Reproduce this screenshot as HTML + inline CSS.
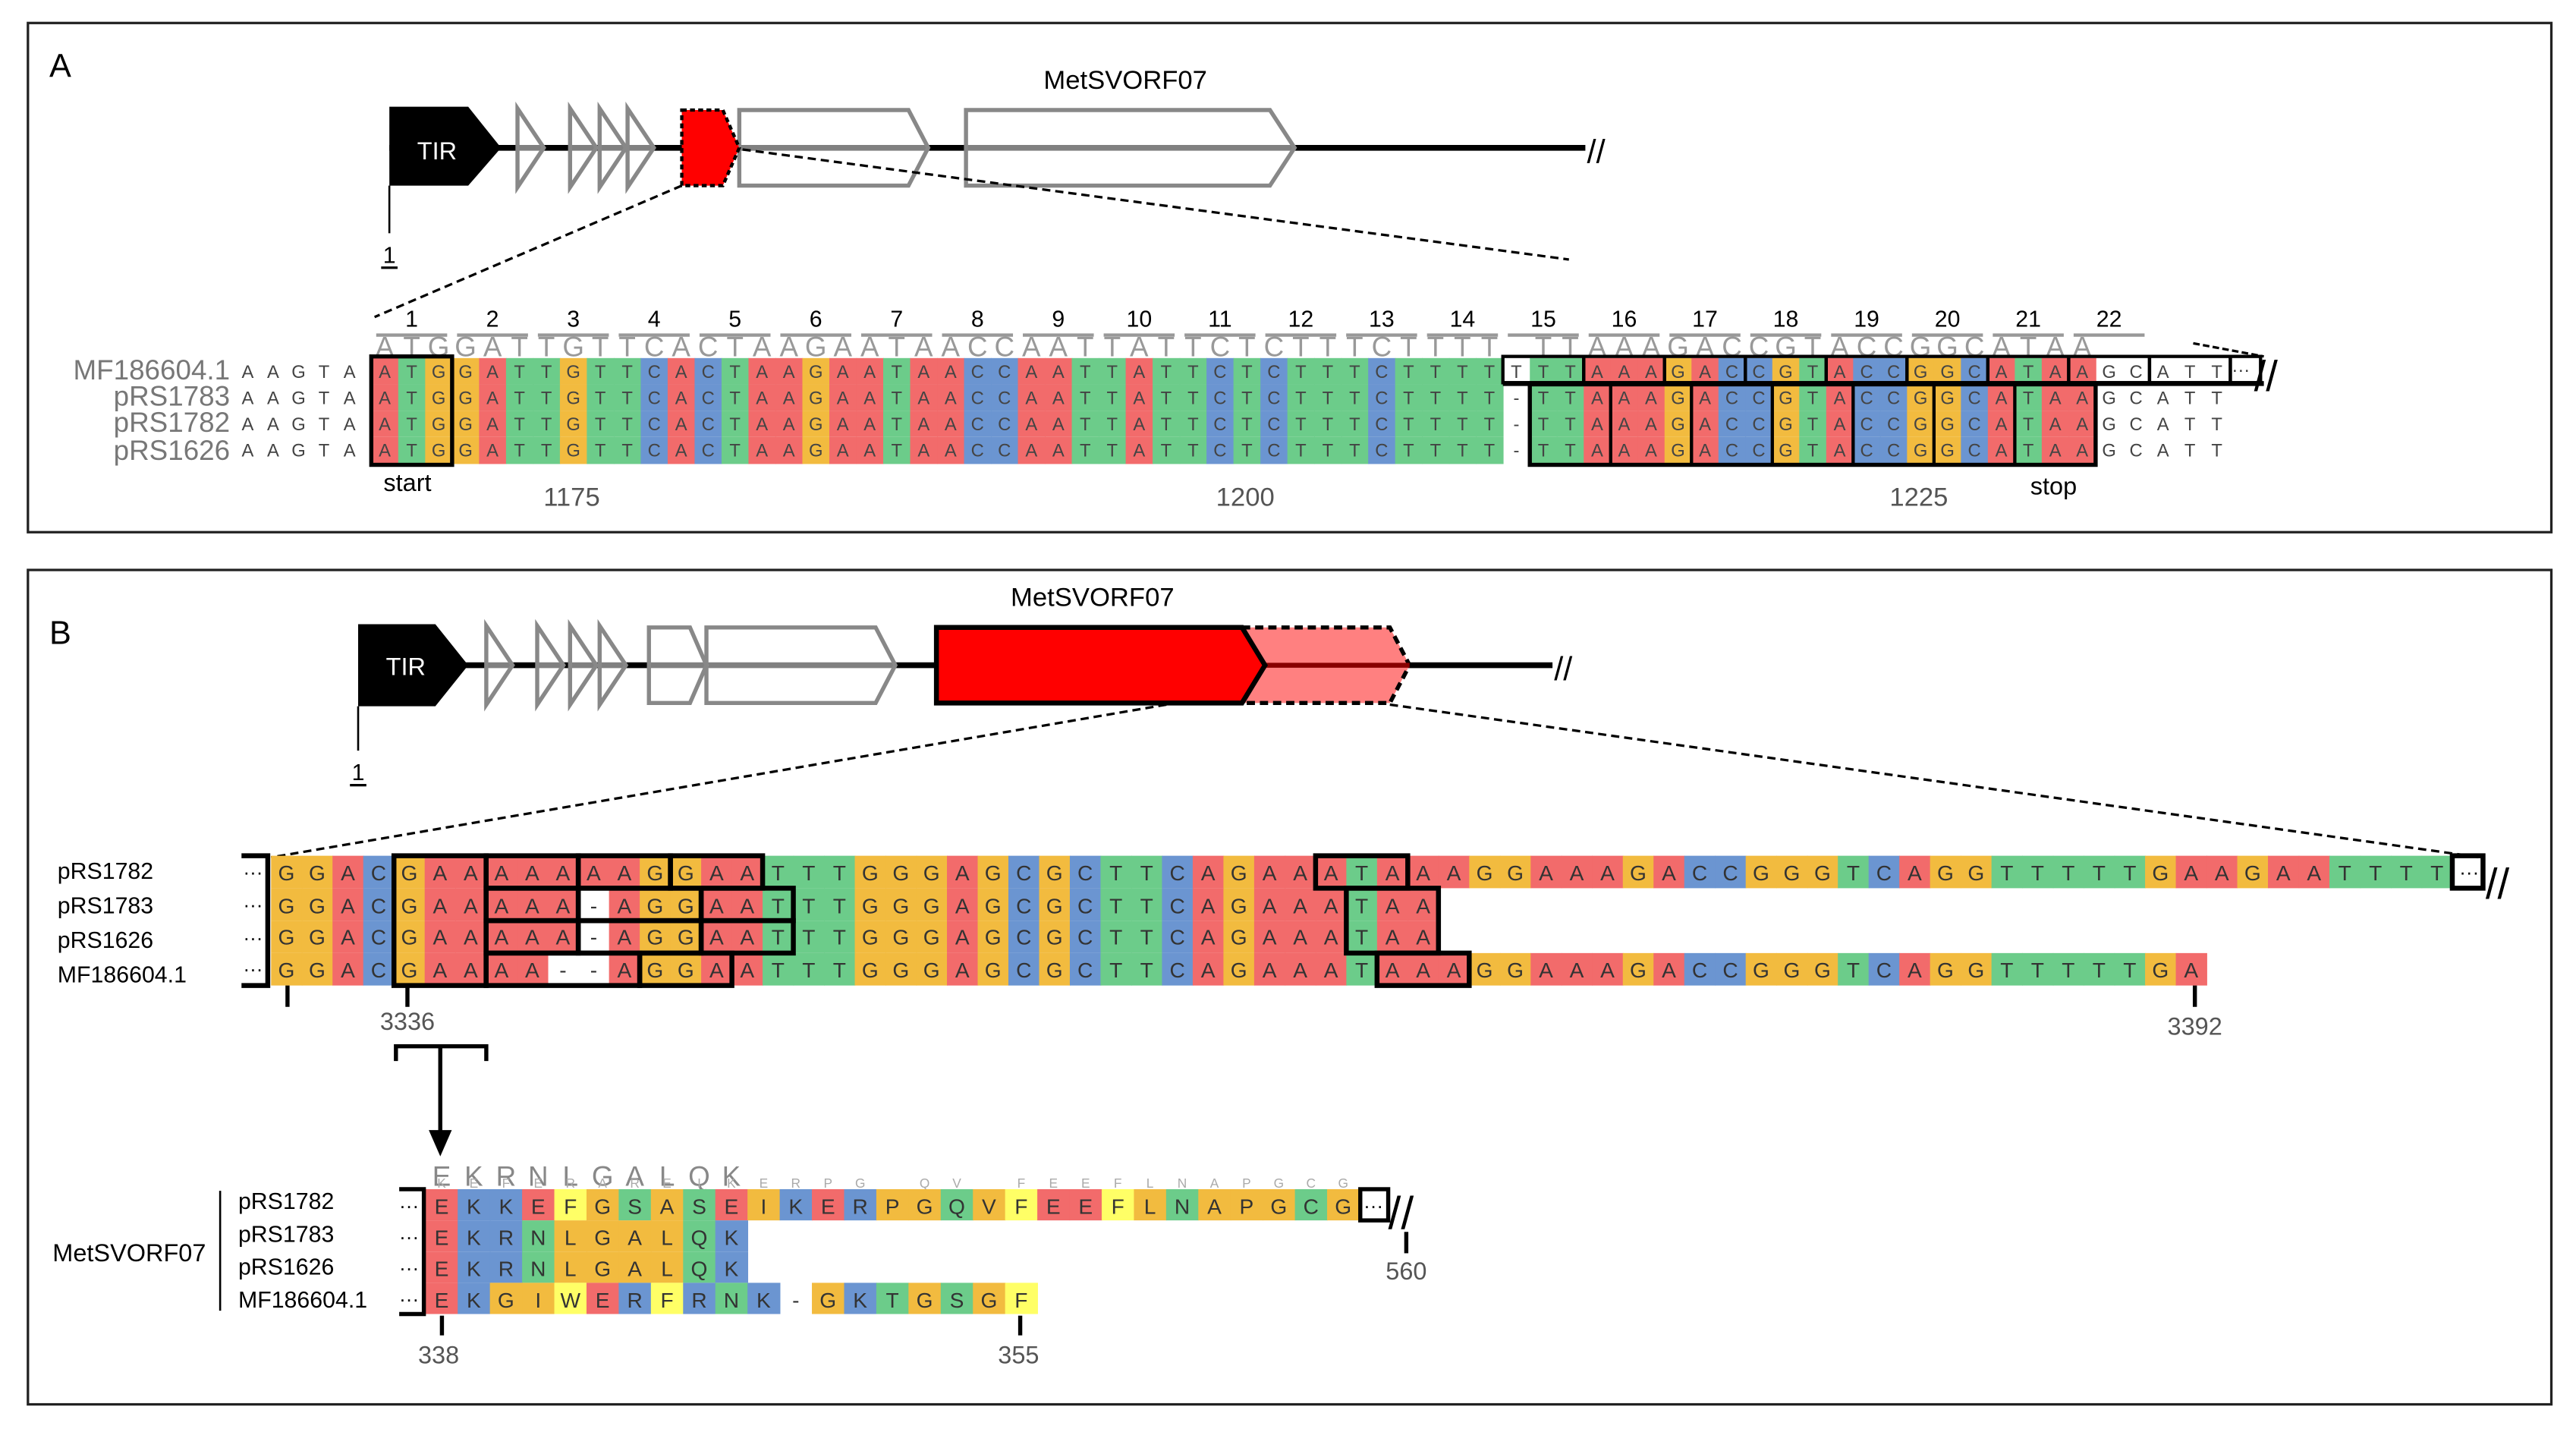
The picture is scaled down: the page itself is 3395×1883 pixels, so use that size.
<!DOCTYPE html>
<html><head><meta charset="utf-8"><style>
html,body{margin:0;padding:0;background:#fff;}
svg{display:block;}
text{font-family:"Liberation Sans Narrow","Liberation Sans",sans-serif;}
.nt{font-size:11px;fill:#444;text-anchor:middle;}
.ntb{font-size:13px;fill:#333;text-anchor:middle;}
.aa{font-size:13px;fill:#333;text-anchor:middle;}
.num{font-size:14px;fill:#000;text-anchor:middle;}
</style></head><body>
<svg id="s" width="3395" height="1883" viewBox="0 0 1568 870" preserveAspectRatio="none" xmlns="http://www.w3.org/2000/svg">
<rect x="0" y="0" width="1568" height="870" fill="#fff"/>
<rect x="17" y="14" width="1536" height="310" fill="none" stroke="#222" stroke-width="1.5"/>
<rect x="17" y="347" width="1536" height="508" fill="none" stroke="#222" stroke-width="1.5"/>
<text x="30" y="47" font-size="20" fill="#000">A</text>
<text x="30" y="392" font-size="20" fill="#000">B</text>

<!-- ===== Panel A gene map ===== -->
<line x1="237" y1="90" x2="965" y2="90" stroke="#000" stroke-width="3.5"/>
<text x="966" y="99" font-size="20" fill="#000">//</text>
<polygon points="237,65 285,65 305,90 285,113 237,113" fill="#000"/>
<text x="266" y="97" font-size="15" fill="#fff" text-anchor="middle">TIR</text>
<g fill="#fff" fill-opacity="0.5" stroke="#888" stroke-width="2.5">
<polygon points="315,66 331,90 315,114"/>
<polygon points="347,66 363,90 347,114"/>
<polygon points="365,66 381,90 365,114"/>
<polygon points="382,66 398,90 382,114"/>
<polygon points="450,67 553,67 565,90 553,113 450,113"/>
<polygon points="588,67 773,67 788,90 773,113 588,113"/>
</g>
<polygon points="415,67 440,67 450,90 440,113 415,113" fill="#f00" stroke="#000" stroke-width="2" stroke-dasharray="3,2"/>
<text x="685" y="54" font-size="16" fill="#000" text-anchor="middle">MetSVORF07</text>
<line x1="237" y1="113" x2="237" y2="142" stroke="#000" stroke-width="1.2"/>
<text x="237" y="160" font-size="14" fill="#000" text-anchor="middle">1</text>
<line x1="232" y1="163" x2="242" y2="163" stroke="#000" stroke-width="1.5"/>
<line x1="415" y1="113" x2="228" y2="193" stroke="#000" stroke-width="1.5" stroke-dasharray="5,3"/>
<line x1="452" y1="91" x2="955" y2="158" stroke="#000" stroke-width="1.5" stroke-dasharray="5,3"/>

<!-- ===== Panel A alignment ===== -->
<g id="abars"></g>
<g>
<text x="250.6" y="199" class="num">1</text><text x="299.8" y="199" class="num">2</text><text x="349" y="199" class="num">3</text><text x="398.2" y="199" class="num">4</text><text x="447.4" y="199" class="num">5</text><text x="496.6" y="199" class="num">6</text><text x="545.8" y="199" class="num">7</text><text x="595" y="199" class="num">8</text><text x="644.2" y="199" class="num">9</text><text x="693.4" y="199" class="num">10</text><text x="742.6" y="199" class="num">11</text><text x="791.8" y="199" class="num">12</text><text x="841" y="199" class="num">13</text><text x="890.2" y="199" class="num">14</text><text x="939.4" y="199" class="num">15</text><text x="988.6" y="199" class="num">16</text><text x="1037.8" y="199" class="num">17</text><text x="1087" y="199" class="num">18</text><text x="1136.2" y="199" class="num">19</text><text x="1185.4" y="199" class="num">20</text><text x="1234.6" y="199" class="num">21</text><text x="1283.8" y="199" class="num">22</text>
</g>
<text id="acons" y="217" font-size="17" fill="#999" text-anchor="middle">ATGGATTGTTCACTAAGAATAACCAATTATTCTCTTTCTTTT TTAAAGACCGTACCGGCATAA</text>
<g font-size="17" fill="#777" text-anchor="end">
<text x="140" y="231">MF186604.1</text>
<text x="140" y="247">pRS1783</text>
<text x="140" y="263">pRS1782</text>
<text x="140" y="280">pRS1626</text>
</g>
<g id="arows"></g>
<text id="pa0" class="nt" y="230">AAGTA</text>
<text id="pa1" class="nt" y="246">AAGTA</text>
<text id="pa2" class="nt" y="262">AAGTA</text>
<text id="pa3" class="nt" y="278">AAGTA</text>
<text id="a0" class="nt" y="230">ATGGATTGTTCACTAAGAATAACCAATTATTCTCTTTCTTTTTTTAAAGACCGTACCGGCATAAGCATT</text>
<text id="a1" class="nt" y="246">ATGGATTGTTCACTAAGAATAACCAATTATTCTCTTTCTTTT-TTAAAGACCGTACCGGCATAAGCATT</text>
<text id="a2" class="nt" y="262">ATGGATTGTTCACTAAGAATAACCAATTATTCTCTTTCTTTT-TTAAAGACCGTACCGGCATAAGCATT</text>
<text id="a3" class="nt" y="278">ATGGATTGTTCACTAAGAATAACCAATTATTCTCTTTCTTTT-TTAAAGACCGTACCGGCATAAGCATT</text>
<text x="1364" y="229" font-size="11" fill="#333" text-anchor="middle">···</text>
<g id="aboxes" fill="none" stroke="#000"></g>
<line x1="1335" y1="209" x2="1378" y2="217" stroke="#000" stroke-width="1.5" stroke-dasharray="4,2"/>
<text x="1372" y="238" font-size="26" fill="#000">//</text>
<g font-size="15" text-anchor="middle">
<text x="248" y="299" fill="#000">start</text>
<text x="348" y="308" fill="#555" font-size="16">1175</text>
<text x="758" y="308" fill="#555" font-size="16">1200</text>
<text x="1168" y="308" fill="#555" font-size="16">1225</text>
<text x="1250" y="301" fill="#000">stop</text>
</g>

<!-- ===== Panel B gene map ===== -->
<line x1="218" y1="405" x2="945" y2="405" stroke="#000" stroke-width="3.5"/>
<text x="946" y="414" font-size="20" fill="#000">//</text>
<polygon points="218,380 265,380 285,405 265,430 218,430" fill="#000"/>
<text x="247" y="411" font-size="15" fill="#fff" text-anchor="middle">TIR</text>
<g fill="#fff" fill-opacity="0.5" stroke="#888" stroke-width="2.5">
<polygon points="296,381 312,405 296,429"/>
<polygon points="327,381 343,405 327,429"/>
<polygon points="347,381 363,405 347,429"/>
<polygon points="365,381 381,405 365,429"/>
<polygon points="395,382 420,382 430,405 420,428 395,428"/>
<polygon points="430,382 533,382 545,405 533,428 430,428"/>
</g>
<polygon points="756,382 846,382 858,405 846,428 756,428" fill="#ff8080" stroke="#000" stroke-width="2.5" stroke-dasharray="5,3"/>
<line x1="768" y1="405" x2="858" y2="405" stroke="#800" stroke-width="3"/>
<polygon points="570,382 756,382 770,405 756,428 570,428" fill="#f00" stroke="#000" stroke-width="3"/>
<text x="665" y="369" font-size="16" fill="#000" text-anchor="middle">MetSVORF07</text>
<line x1="218" y1="430" x2="218" y2="457" stroke="#000" stroke-width="1.2"/>
<text x="218" y="475" font-size="14" fill="#000" text-anchor="middle">1</text>
<line x1="213" y1="478" x2="223" y2="478" stroke="#000" stroke-width="1.5"/>
<line x1="710" y1="429" x2="165" y2="522" stroke="#000" stroke-width="1.5" stroke-dasharray="5,3"/>
<line x1="846" y1="429" x2="1510" y2="522" stroke="#000" stroke-width="1.5" stroke-dasharray="5,3"/>

<!-- ===== Panel B nucleotide alignment ===== -->
<g font-size="14" fill="#000">
<text x="35" y="535">pRS1782</text>
<text x="35" y="556">pRS1783</text>
<text x="35" y="577">pRS1626</text>
<text x="35" y="598">MF186604.1</text>
</g>
<g font-size="12" fill="#000" text-anchor="middle">
<text x="154" y="535">···</text><text x="154" y="555">···</text><text x="154" y="575">···</text><text x="154" y="594">···</text>
</g>
<g id="brows"></g>
<text id="b0" class="ntb" y="536">GGACGAAAAAAAGGAATTTGGGAGCGCTTCAGAAATAAAGGAAAGACCGGGTCAGGTTTTTGAAGAATTTT</text>
<text id="b1" class="ntb" y="556">GGACGAAAAA-AGGAATTTGGGAGCGCTTCAGAAATAA</text>
<text id="b2" class="ntb" y="575">GGACGAAAAA-AGGAATTTGGGAGCGCTTCAGAAATAA</text>
<text id="b3" class="ntb" y="595">GGACGAAAA--AGGAATTTGGGAGCGCTTCAGAAATAAAGGAAAGACCGGGTCAGGTTTTTGA</text>
<g id="bboxes" fill="none" stroke="#000"></g>
<text x="1503" y="535" font-size="12" fill="#000" text-anchor="middle">···</text>
<text x="1513" y="547" font-size="26" fill="#000">//</text>
<g stroke="#000" stroke-width="2.5">
<line x1="175" y1="600" x2="175" y2="613"/>
<line x1="248" y1="600" x2="248" y2="613"/>
<line x1="1336" y1="600" x2="1336" y2="613"/>
</g>
<g font-size="15" fill="#555" text-anchor="middle">
<text x="248" y="627">3336</text>
<text x="1336" y="630">3392</text>
</g>
<path d="M241,646 V637 H296 V646" fill="none" stroke="#000" stroke-width="2.5"/>
<line x1="268" y1="637" x2="268" y2="692" stroke="#000" stroke-width="2.5"/>
<polygon points="261,688 275,688 268,704" fill="#000"/>

<!-- ===== Panel B protein ===== -->
<text id="pcons" y="722" font-size="17" fill="#888" text-anchor="middle">EKRNLGALQK</text>
<text id="pcons2" y="723" font-size="8" fill="#aaa" text-anchor="middle">  KEFERAREIKERPG QV FEEFLNAPGCG</text>
<text x="32" y="768" font-size="15" fill="#000">MetSVORF07</text>
<line x1="134" y1="725" x2="134" y2="798" stroke="#000" stroke-width="1.2"/>
<g font-size="14" fill="#000">
<text x="145" y="736">pRS1782</text>
<text x="145" y="756">pRS1783</text>
<text x="145" y="776">pRS1626</text>
<text x="145" y="796">MF186604.1</text>
</g>
<g font-size="12" fill="#000" text-anchor="middle">
<text x="249" y="738">···</text><text x="249" y="757">···</text><text x="249" y="776">···</text><text x="249" y="795">···</text>
</g>
<g id="prows"></g>
<text id="p0" class="aa" y="739">EKKEFGSASEIKERPGQVFEEFLNAPGCG</text>
<text id="p1" class="aa" y="758">EKRNLGALQK</text>
<text id="p2" class="aa" y="777">EKRNLGALQK</text>
<text id="p3" class="aa" y="796">EKGIWERFRNK-GKTGSGF</text>
<path d="M243,724 H258 V800 H243" fill="none" stroke="#000" stroke-width="2.5"/>
<rect x="828" y="724" width="17" height="19" fill="none" stroke="#000" stroke-width="2.5"/>
<text x="836" y="738" font-size="12" fill="#000" text-anchor="middle">···</text>
<text x="845" y="748" font-size="28" fill="#000">//</text>
<g stroke="#000" stroke-width="2.5">
<line x1="856" y1="750" x2="856" y2="763"/>
<line x1="269" y1="801" x2="269" y2="813"/>
<line x1="621" y1="801" x2="621" y2="813"/>
</g>
<g font-size="15" fill="#555" text-anchor="middle">
<text x="856" y="779">560</text>
<text x="267" y="830">338</text>
<text x="620" y="830">355</text>
</g>
</svg>
<script>
(function(){
var NS="http://www.w3.org/2000/svg";
function el(tag,attrs,parent){var e=document.createElementNS(NS,tag);for(var k in attrs)e.setAttribute(k,attrs[k]);parent.appendChild(e);return e;}
var NC={A:'#f26b6b',T:'#6ccc8a',G:'#f2bb3f',C:'#6b95d1'};
var PC={E:'#f26b6b',D:'#f26b6b',K:'#6b95d1',R:'#6b95d1',F:'#ffff66',W:'#ffff66',Y:'#ffff66',G:'#f2bb3f',A:'#f2bb3f',I:'#f2bb3f',L:'#f2bb3f',V:'#f2bb3f',P:'#f2bb3f',M:'#f2bb3f',S:'#6ccc8a',T:'#6ccc8a',Q:'#6ccc8a',N:'#6ccc8a',C:'#6ccc8a',H:'#6ccc8a'};
function row(id,x0,w,y,h,map,end,white,grp){
 var t=document.getElementById(id),s=t.textContent,xs=[];
 for(var i=0;i<s.length;i++){
  xs.push((x0+(i+0.5)*w).toFixed(2));
  if(grp && map && i<end && (!white||white.indexOf(i)<0) && map[s[i]])
   el('rect',{x:(x0+i*w).toFixed(2),y:y,width:(w+0.4).toFixed(2),height:h,fill:map[s[i]]},grp);
 }
 t.setAttribute('x',xs.join(' '));
}
var W=16.4,X0=226;
var ar=document.getElementById('arows');
row('a0',X0,W,218,16,NC,64,[42],ar);
row('a1',X0,W,234,16,NC,64,null,ar);
row('a2',X0,W,250,16,NC,64,null,ar);
row('a3',X0,W,266,16.5,NC,64,null,ar);
for(var k=0;k<4;k++)row('pa'+k,143,15.5,0,0,null,0,null,null);
row('acons',X0,W,0,0,null,0,null,null);
var bars=document.getElementById('abars');
for(var n=1;n<=22;n++){var xs=X0+(n-1)*3*W;el('line',{x1:xs+3,y1:204,x2:xs+3*W-3,y2:204,stroke:'#999','stroke-width':2},bars);}
var ab=document.getElementById('aboxes');
function cx(c){return X0+(c-1)*W;}
el('rect',{x:cx(1),y:217,width:3*W,height:66,'stroke-width':2.5},ab);
for(var n=15;n<=23;n++){el('rect',{x:cx(3*n-2),y:217,width:3*W,height:16,'stroke-width':2},ab);}
el('rect',{x:cx(70),y:217,width:W+2,height:16,'stroke-width':2},ab);
el('line',{x1:cx(43),y1:233.5,x2:1378,y2:233.5,'stroke-width':3},ab);
el('rect',{x:cx(44),y:234,width:21*W,height:49,'stroke-width':2.5},ab);
[47,50,53,56,59,62].forEach(function(c){el('line',{x1:cx(c),y1:234,x2:cx(c),y2:283,'stroke-width':2},ab);});
var BW=18.7,BX=165,RH=19.75,RY=521;
var br=document.getElementById('brows');
for(var k=0;k<4;k++)row('b'+k,BX,BW,RY+k*RH,RH,NC,999,null,br);
var bb=document.getElementById('bboxes');
function bc(c){return BX+(c-1)*BW;}
function bx(c1,c2,r1,r2,sw){el('rect',{x:bc(c1),y:RY+r1*RH,width:(c2-c1+1)*BW,height:(r2-r1)*RH,'stroke-width':sw||3},bb);}
bx(5,7,0,4,3);
bx(8,10,0,1);bx(11,13,0,1);bx(14,16,0,1);
bx(8,10,1,2);bx(11,14,1,2);bx(15,17,1,2);
bx(8,10,2,3);bx(11,14,2,3);bx(15,17,2,3);
bx(8,12,3,4);bx(13,15,3,4);
bx(35,37,0,1);bx(36,38,1,3);bx(37,39,3,4);
el('path',{d:'M147,521 H163 V600 H147','stroke-width':3},bb);
el('rect',{x:bc(72),y:521,width:BW,height:RH,'stroke-width':3},bb);
var PW=19.6,PX=259,PH=19;
var pr=document.getElementById('prows');
for(var k=0;k<4;k++)row('p'+k,PX,PW,724+k*PH,PH,PC,999,null,pr);
row('pcons',PX,PW,0,0,null,0,null,null);
row('pcons2',PX,PW,0,0,null,0,null,null);
})();
</script>
</body></html>
